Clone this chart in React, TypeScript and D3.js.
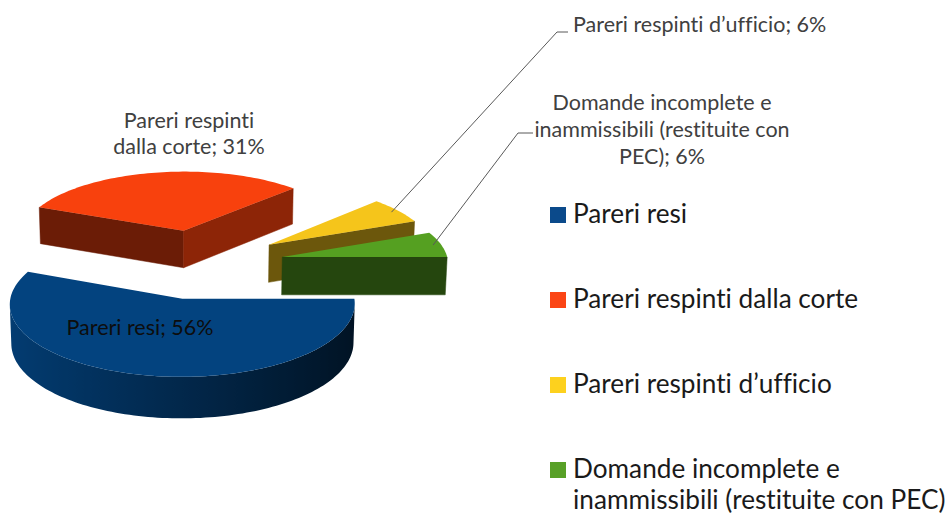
import React, { useEffect, useRef } from 'react';
import * as d3 from 'd3';

// dati
const categories = [
  'Pareri resi',
  'Pareri respinti dalla corte',
  'Pareri respinti d’ufficio',
  'Domande incomplete e inammissibili (restituite con PEC)',
];
const values = [56.2, 31.4, 6.3, 6.1];
const topColors = ['#03437f', '#f8410d', '#f5c51b', '#55a021'];
const legendColors = ['#0b4a8b', '#fb4515', '#fdd11e', '#58a027'];
const legendLines = [
  ['Pareri resi'],
  ['Pareri respinti dalla corte'],
  ['Pareri respinti d’ufficio'],
  ['Domande incomplete e', 'inammissibili (restituite con PEC)'],
];
const labelLines = [
  ['Pareri resi'],
  ['Pareri respinti', 'dalla corte'],
  ['Pareri respinti d’ufficio'],
  ['Domande incomplete e', 'inammissibili (restituite con', 'PEC)'],
];

const W = 952;
const H = 515;

export default function App() {
  const ref = useRef<SVGSVGElement>(null);

  useEffect(() => {
    const svg = d3.select(ref.current);
    svg.selectAll('*').remove();

    // geometria della torta 3D
    const cx = 199.4, cy = 263.5;
    const R = 166, explode = 85, depth = 42;
    const S = 0.407, C = Math.sqrt(1 - S * S);
    const camD = 2176;
    const font = 'Lato, "Open Sans", sans-serif';
    const noLig = 'font-variant-ligatures: none; font-feature-settings: "liga" 0, "clig" 0;';

    const project = (X: number, Z: number, h: number): [number, number] => {
      const d = Z * C + h * S;
      const s = camD / (camD - d);
      return [cx + X * s, cy + (Z * S - h * C) * s];
    };
    // visibile se la normale guarda verso la camera
    const faces = (nx: number, nz: number, px: number, pz: number) =>
      nx * (0 - px) + nz * (camD * C - pz) > 0;

    const shadeSide = (phi: number) => 0.28 + 0.62 * (1 - Math.cos(phi)) / 2;
    const shadeFace = d3.scaleLinear().domain([45, 68, 112]).range([0.57, 0.44, 0.43]).clamp(true);
    const darken = (c: string, k: number) => {
      const q = d3.rgb(c);
      return d3.rgb(q.r * k, q.g * k, q.b * k).formatHex();
    };

    const line = d3.line();
    const poly = (pts: [number, number][]) => line(pts) + 'Z';

    const pie = d3.pie<number>().sort(null).startAngle(0).endAngle(2 * Math.PI);
    const arcs = pie(values);
    const total = d3.sum(values);
    const pct = d3.format('.0%');

    const slices = arcs.map((a, i) => {
      const mid = (a.startAngle + a.endAngle) / 2;
      return { i, a, mid, ox: explode * Math.cos(mid), oz: explode * Math.sin(mid) };
    });

    const defs = svg.append('defs');
    const gPie = svg.append('g');

    slices
      .slice()
      .sort((p, q) => p.oz - q.oz)
      .forEach(sl => {
        const { i, a, ox, oz } = sl;
        const col = topColors[i];
        const a0 = a.startAngle, a1 = a.endAngle;
        const n = Math.max(4, Math.ceil((a1 - a0) / (Math.PI / 120)));
        const angs = d3.range(n + 1).map(k => a0 + (a1 - a0) * k / n);
        const g = gPie.append('g');

        // facce radiali
        const radial = (ang: number, nx: number, nz: number) => {
          if (!faces(nx, nz, ox, oz)) return;
          const px = ox + R * Math.cos(ang), pz = oz + R * Math.sin(ang);
          const psi = ((Math.atan2(nz, nx) * 180) / Math.PI + 360) % 360;
          g.append('path')
            .attr('d', poly([project(ox, oz, 0), project(px, pz, 0), project(px, pz, -depth), project(ox, oz, -depth)]))
            .attr('fill', darken(col, shadeFace(psi)))
            .attr('stroke', darken(col, shadeFace(psi)))
            .attr('stroke-width', 0.5);
        };
        radial(a0, Math.sin(a0), -Math.cos(a0));
        radial(a1, -Math.sin(a1), Math.cos(a1));

        // lato curvo
        const groups: number[][] = [];
        let cur: number[] = [];
        for (let k = 0; k < n; k++) {
          const phi = (angs[k] + angs[k + 1]) / 2;
          const vis = faces(Math.cos(phi), Math.sin(phi), ox + R * Math.cos(phi), oz + R * Math.sin(phi));
          if (vis) {
            if (!cur.length) cur.push(angs[k]);
            cur.push(angs[k + 1]);
          } else if (cur.length) {
            groups.push(cur);
            cur = [];
          }
        }
        if (cur.length) groups.push(cur);

        groups.forEach((grp, gi) => {
          const topP = grp.map(p => project(ox + R * Math.cos(p), oz + R * Math.sin(p), 0));
          const botP = grp.map(p => project(ox + R * Math.cos(p), oz + R * Math.sin(p), -depth));
          const xs = topP.map(p => p[0]);
          const xmin = d3.min(xs) as number, xmax = d3.max(xs) as number;
          const id = `side-${i}-${gi}`;
          const grad = defs.append('linearGradient')
            .attr('id', id)
            .attr('gradientUnits', 'userSpaceOnUse')
            .attr('x1', xmin).attr('x2', xmax).attr('y1', 0).attr('y2', 0);
          grp
            .map((p, k) => ({ off: (xs[k] - xmin) / (xmax - xmin || 1), c: darken(col, shadeSide(p)) }))
            .sort((u, v) => u.off - v.off)
            .forEach(st => grad.append('stop').attr('offset', st.off).attr('stop-color', st.c));
          g.append('path')
            .attr('d', poly([...topP, ...botP.reverse()]))
            .attr('fill', `url(#${id})`);
        });

        // faccia superiore
        const topPts: [number, number][] = [project(ox, oz, 0)];
        angs.forEach(p => topPts.push(project(ox + R * Math.cos(p), oz + R * Math.sin(p), 0)));
        g.append('path').attr('d', poly(topPts)).attr('fill', col);
      });

    // etichette dati
    const labelPos = [
      { x: 140, y: 335, anchor: 'middle', lh: 26, fill: '#0d0d0d' },
      { x: 189, y: 128, anchor: 'middle', lh: 26, fill: '#404040' },
      { x: 573, y: 32, anchor: 'start', lh: 26, fill: '#404040' },
      { x: 662, y: 110, anchor: 'middle', lh: 27, fill: '#404040' },
    ];
    const elbows: ([number, number][] | null)[] = [
      null,
      null,
      [[557, 32], [568, 32]],
      [[518, 133], [533, 133]],
    ];

    slices.forEach(sl => {
      const { i, mid, ox, oz } = sl;
      const el = elbows[i];
      if (el) {
        const r = 0.95 * R;
        const p0 = project(ox + r * Math.cos(mid), oz + r * Math.sin(mid), 0);
        svg.append('path')
          .attr('d', line([p0, ...el]))
          .attr('fill', 'none')
          .attr('stroke', '#595959')
          .attr('stroke-width', 1);
      }
      const lp = labelPos[i];
      const lines = labelLines[i].slice();
      lines[lines.length - 1] += '; ' + pct(values[i] / total);
      const t = svg.append('text')
        .attr('x', lp.x).attr('y', lp.y)
        .attr('text-anchor', lp.anchor)
        .attr('font-family', font)
        .attr('font-size', 21.5)
        .attr('style', noLig)
        .attr('fill', lp.fill);
      lines.forEach((ln, k) => t.append('tspan').attr('x', lp.x).attr('y', lp.y + k * lp.lh).text(ln));
    });

    // legenda
    const legY = d3.scalePoint<number>().domain(d3.range(categories.length)).range([207, 462]);
    const leg = svg.append('g');
    categories.forEach((c, i) => {
      const y = legY(i) as number;
      leg.append('rect').attr('x', 550).attr('y', y).attr('width', 16).attr('height', 16).attr('fill', legendColors[i]);
      const t = leg.append('text')
        .attr('font-family', font)
        .attr('font-size', 26.2)
        .attr('style', noLig)
        .attr('fill', '#1a1a1a');
      legendLines[i].forEach((ln, k) => t.append('tspan').attr('x', 573).attr('y', y + 16 + k * 31).text(ln));
    });
  }, []);

  return (
    <svg
      ref={ref}
      width={W}
      height={H}
      style={{ position: 'absolute', left: 0, top: 0, background: '#ffffff' }}
    />
  );
}
